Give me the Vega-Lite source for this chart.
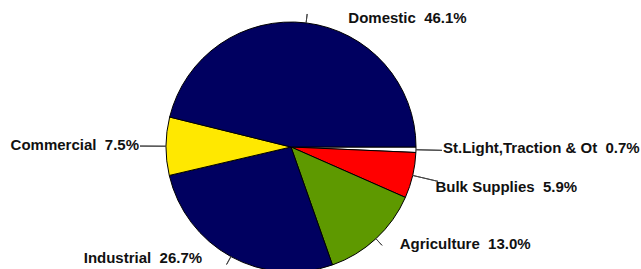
{
  "$schema": "https://vega.github.io/schema/vega-lite/v6.json",
  "autosize": "none",
  "width": 582,
  "height": 240,
  "padding": {"left": 0, "top": 27, "right": 59, "bottom": 2},
  "background": "white",
  "config": {"view": {"stroke": null}},
  "data": {
    "values": [
      {"category": "St.Light,Traction & Ot", "value": 0.7, "rank": 1, "label": "St.Light,Traction & Ot\u00a0 0.7%"},
      {"category": "Bulk Supplies", "value": 5.9, "rank": 2, "label": "Bulk Supplies\u00a0 5.9%"},
      {"category": "Agriculture", "value": 13.0, "rank": 3, "label": "Agriculture\u00a0 13.0%"},
      {"category": "Industrial", "value": 26.7, "rank": 4, "label": "Industrial\u00a0 26.7%"},
      {"category": "Commercial", "value": 7.5, "rank": 5, "label": "Commercial\u00a0 7.5%"},
      {"category": "Domestic", "value": 46.1, "rank": 6, "label": "Domestic\u00a0 46.1%"}
    ]
  },
  "encoding": {
    "theta": {"field": "value", "type": "quantitative", "stack": true, "scale": {"range": [1.5708, 7.854]}},
    "order": {"field": "rank", "type": "quantitative"}
  },
  "layer": [
    {
      "mark": {"type": "arc", "radius": 125, "stroke": "#000000", "strokeWidth": 1},
      "encoding": {
        "color": {
          "field": "category", "type": "nominal", "legend": null,
          "scale": {
            "domain": ["St.Light,Traction & Ot", "Bulk Supplies", "Agriculture", "Industrial", "Commercial", "Domestic"],
            "range": ["#ffffff", "#ff0000", "#5e9900", "#000060", "#ffe800", "#000060"]
          }
        }
      }
    },
    {
      "mark": {"type": "arc", "radius": 134, "radius2": 125, "padAngle": 3, "fill": null, "stroke": "#444444", "strokeWidth": 1},
      "encoding": {"strokeOpacity": {"condition": {"test": "indexof(['Domestic','Agriculture','Industrial'], datum.category) >= 0", "value": 1}, "value": 0}}
    },
    {
      "mark": {"type": "arc", "radius": 151, "radius2": 125, "padAngle": 3, "fill": null, "stroke": "#444444", "strokeWidth": 1},
      "encoding": {"strokeOpacity": {"condition": {"test": "indexof(['Commercial','St.Light,Traction & Ot','Bulk Supplies'], datum.category) >= 0", "value": 1}, "value": 0}}
    },
    {
      "mark": {"type": "text", "radius": 135, "align": "left", "baseline": "middle", "font": "Liberation Sans", "fontWeight": "bold", "fontSize": 15, "fill": "#111111", "dx": 41, "dy": 5},
      "encoding": {"text": {"condition": {"test": "datum.category == 'Domestic'", "field": "label"}, "value": ""}}
    },
    {
      "mark": {"type": "text", "radius": 135, "align": "left", "baseline": "middle", "font": "Liberation Sans", "fontWeight": "bold", "fontSize": 15, "fill": "#111111", "dx": 17, "dy": -2},
      "encoding": {"text": {"condition": {"test": "datum.category == 'St.Light,Traction & Ot'", "field": "label"}, "value": ""}}
    },
    {
      "mark": {"type": "text", "radius": 135, "align": "left", "baseline": "middle", "font": "Liberation Sans", "fontWeight": "bold", "fontSize": 15, "fill": "#111111", "dx": 13, "dy": 9},
      "encoding": {"text": {"condition": {"test": "datum.category == 'Bulk Supplies'", "field": "label"}, "value": ""}}
    },
    {
      "mark": {"type": "text", "radius": 135, "align": "left", "baseline": "middle", "font": "Liberation Sans", "fontWeight": "bold", "fontSize": 15, "fill": "#111111", "dx": 17, "dy": -2},
      "encoding": {"text": {"condition": {"test": "datum.category == 'Agriculture'", "field": "label"}, "value": ""}}
    },
    {
      "mark": {"type": "text", "radius": 135, "align": "right", "baseline": "middle", "font": "Liberation Sans", "fontWeight": "bold", "fontSize": 15, "fill": "#111111", "dx": -24, "dy": -7},
      "encoding": {"text": {"condition": {"test": "datum.category == 'Industrial'", "field": "label"}, "value": ""}}
    },
    {
      "mark": {"type": "text", "radius": 135, "align": "right", "baseline": "middle", "font": "Liberation Sans", "fontWeight": "bold", "fontSize": 15, "fill": "#111111", "dx": -17, "dy": -1},
      "encoding": {"text": {"condition": {"test": "datum.category == 'Commercial'", "field": "label"}, "value": ""}}
    }
  ]
}
